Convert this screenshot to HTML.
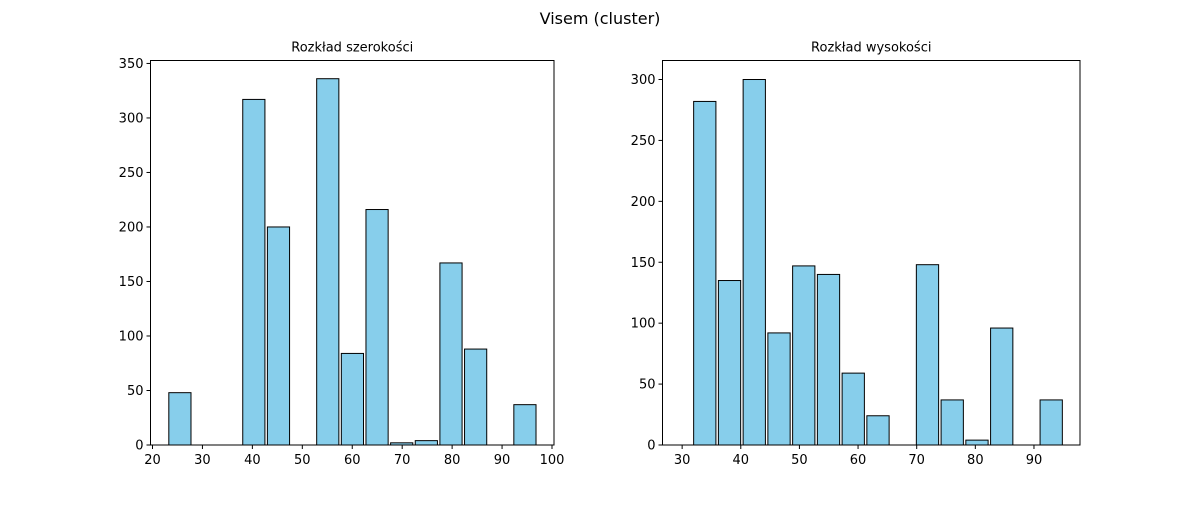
<!DOCTYPE html>
<html><head><meta charset="utf-8">
<style>
body{margin:0;background:#fff;font-family:"Liberation Sans","DejaVu Sans",sans-serif;}
svg text{font-family:"DejaVu Sans","Liberation Sans",sans-serif;}
</style></head>
<body>
<svg id="fig" width="1200" height="500" xmlns="http://www.w3.org/2000/svg">
<rect width="1200" height="500" fill="#fff"/>
<text x="600" y="24" text-anchor="middle" font-size="16">Visem (cluster)</text>
</svg>
<script>
const widthCounts = [48, 0, 0, 317, 200, 0, 336, 84, 216, 2, 4, 167, 88, 0, 37];
const heightCounts = [282, 135, 300, 92, 147, 140, 59, 24, 0, 148, 37, 4, 96, 0, 37];
const widthBinStart = 23.02, widthBinW = 4.935;
const heightBinStart = 31.75, heightBinW = 4.22;
const widthXTicks = [20, 30, 40, 50, 60, 70, 80, 90, 100];
const heightXTicks = [30, 40, 50, 60, 70, 80, 90];
const widthYTicks = [0, 50, 100, 150, 200, 250, 300, 350];
const heightYTicks = [0, 50, 100, 150, 200, 250, 300];

const NS = "http://www.w3.org/2000/svg";
const fig = document.getElementById('fig');
function mk(tag, attrs, parent){const e=document.createElementNS(NS,tag);for(const k in attrs)e.setAttribute(k,attrs[k]);(parent||fig).appendChild(e);return e;}

function panel(name, title, L, R, T, B, xmin, xmax, ymax, counts, start, w, xt, yt){
  const g = mk('g', {});
  
  
  const sx = v => L + (v - xmin) / (xmax - xmin) * (R - L);
  const sy = v => B - v / ymax * (B - T);
  counts.forEach((c, i) => {
    const x0 = sx(start + i*w + 0.05*w), x1 = sx(start + (i+1)*w - 0.05*w);
    if (c <= 0) {
      const l = mk('line', {x1:x0, x2:x1, y1:B, y2:B, stroke:'#000', 'stroke-width':1}, g);
      
      
      return;
    }
    const r = mk('rect', {x:x0, y:sy(c), width:x1-x0, height:B-sy(c), fill:'#87ceeb', stroke:'#000', 'stroke-width':1}, g);
    
    
  });
  const fr = mk('rect', {x:L, y:T, width:R-L, height:B-T, fill:'none', stroke:'#000', 'stroke-width':1}, g);
  
  
  xt.forEach(v => {
    const x = sx(v);
    mk('line', {x1:x, x2:x, y1:B, y2:B+4, stroke:'#000'}, g);
    const t = mk('text', {x:x, y:B+19, 'text-anchor':'middle', 'font-size':13}, g);
    t.textContent = v;
    
    
  });
  yt.forEach(v => {
    const y = sy(v);
    mk('line', {x1:L-4, x2:L, y1:y, y2:y, stroke:'#000'}, g);
    const t = mk('text', {x:L-7, y:y+4.5, 'text-anchor':'end', 'font-size':13}, g);
    t.textContent = v;
    
    
  });
  const tt = mk('text', {x:(L+R)/2, y:T-9, 'text-anchor':'middle', 'font-size':13}, g);
  tt.textContent = title;
  
  
}
panel('width-histogram', 'Rozkład szerokości', 150.5, 554, 60.5, 445, 19.6, 100.4, 352.7, widthCounts, widthBinStart, widthBinW, widthXTicks, widthYTicks);
panel('height-histogram', 'Rozkład wysokości', 662.5, 1080, 60.5, 445, 26.65, 97.85, 315.6, heightCounts, heightBinStart, heightBinW, heightXTicks, heightYTicks);
</script>
</body></html>
